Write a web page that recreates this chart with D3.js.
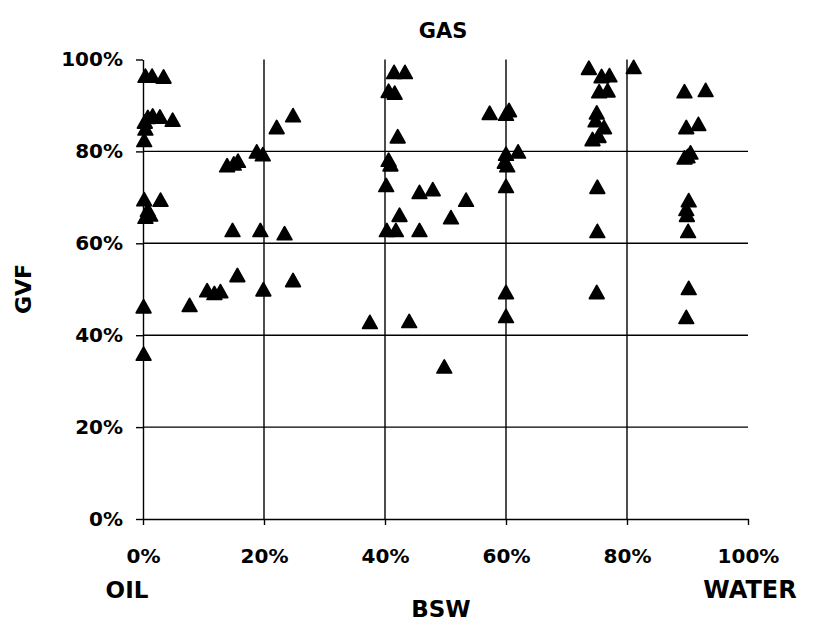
<!DOCTYPE html>
<html>
<head>
<meta charset="utf-8">
<script src="https://cdn.jsdelivr.net/npm/d3@7/dist/d3.min.js"></script>
<style>
  html, body { margin: 0; padding: 0; background: #fff; }
  svg { display: block; }
  text { font-family: "DejaVu Sans", "Liberation Sans", Arial, sans-serif; font-weight: bold; fill: #000; }
</style>
</head>
<body>
<div id="chart"></div>
<script>
// ---- data (BSW %, GVF %) ----
const bsw = [
  0.4, 1.5, 3.4, 0.2, 0.4, 0.3, 0.8, 1.6, 2.8, 4.9,
  0.2, 2.9, 0.8, 1.2, 0.4, 0.1, 0.1, 7.7, 10.6, 11.8,
  12.8, 15.6, 19.9, 24.8, 14.8, 19.4, 23.4, 13.9, 15.0, 15.7,
  18.8, 19.8, 22.1, 24.8, 37.5, 44.0, 49.8,
  41.5, 43.3, 40.6, 41.6, 42.1, 40.6, 40.9, 40.2, 45.7, 47.9,
  53.4, 42.4, 50.9, 40.3, 41.8, 45.7, 57.3,
  60.0, 60.5, 60.0, 62.0, 59.8, 60.2, 60.0, 60.0, 60.0,
  73.7, 75.8, 77.1, 75.4, 76.8, 75.0, 74.8, 76.2, 74.3, 75.3,
  75.1, 75.1, 75.0, 81.1,
  89.5, 93.0, 89.8, 91.8, 89.5, 90.5, 90.0, 90.2, 89.8, 89.9,
  90.1, 90.2, 89.8
];
const gvf = [
  96.5, 96.5, 96.3, 82.5, 85.0, 86.5, 87.5, 87.8, 87.6, 86.9,
  69.6, 69.5, 67.3, 66.3, 65.8, 46.3, 36.0, 46.6, 49.8, 49.2,
  49.6, 53.1, 50.0, 52.0, 62.9, 62.9, 62.2, 77.0, 77.4, 78.0,
  80.0, 79.4, 85.3, 87.9, 42.9, 43.1, 33.2,
  97.3, 97.3, 93.2, 92.8, 83.3, 78.2, 77.2, 72.7, 71.2, 71.8,
  69.5, 66.2, 65.7, 62.9, 62.9, 62.9, 88.4,
  88.2, 89.0, 79.5, 80.0, 77.8, 77.0, 72.5, 49.4, 44.2,
  98.2, 96.4, 96.6, 93.1, 93.3, 88.5, 86.8, 85.3, 82.7, 83.4,
  72.3, 62.7, 49.4, 98.4,
  93.1, 93.4, 85.3, 86.0, 78.7, 79.8, 79.0, 69.4, 67.5, 66.2,
  62.7, 50.3, 44.0
];
const xTicks = [0, 20, 40, 60, 80, 100];
const yTicks = [0, 20, 40, 60, 80, 100];
const xTickLabels = ["0%", "20%", "40%", "60%", "80%", "100%"];
const yTickLabels = ["0%", "20%", "40%", "60%", "80%", "100%"];
const gridValues = [20, 40, 60, 80];
const titleText = "GAS";
const yTitle = "GVF";
const xTitle = "BSW";
const leftLabel = "OIL";
const rightLabel = "WATER";

// ---- layout ----
const W = 814, H = 621;
const x = d3.scaleLinear().domain([0, 100]).range([143, 748]);
const y = d3.scaleLinear().domain([0, 100]).range([519, 59.5]);

const svg = d3.select("#chart").append("svg")
  .attr("width", W).attr("height", H);
svg.append("rect").attr("width", W).attr("height", H).attr("fill", "#fff");

const lineW = 1.4;

// gridlines
svg.append("g").selectAll("line.v").data(gridValues).join("line")
  .attr("x1", d => x(d)).attr("x2", d => x(d))
  .attr("y1", y(0)).attr("y2", y(100))
  .attr("stroke", "#000").attr("stroke-width", lineW);
svg.append("g").selectAll("line.h").data(gridValues).join("line")
  .attr("x1", x(0)).attr("x2", x(100))
  .attr("y1", d => y(d)).attr("y2", d => y(d))
  .attr("stroke", "#000").attr("stroke-width", lineW);

// axes
const yAxis = d3.axisLeft(y).tickValues(yTicks)
  .tickFormat((d, i) => yTickLabels[i]).tickSize(7).tickPadding(13).tickSizeOuter(0);
const gy = svg.append("g").attr("transform", `translate(${x(0)},0)`).call(yAxis);
const xAxis = d3.axisBottom(x).tickValues(xTicks)
  .tickFormat((d, i) => xTickLabels[i]).tickSize(6).tickPadding(24).tickSizeOuter(0);
const gx = svg.append("g").attr("transform", `translate(0,${y(0)})`).call(xAxis);

[gx, gy].forEach(g => {
  g.select(".domain").attr("stroke", "#000").attr("stroke-width", lineW);
  g.selectAll(".tick line").attr("stroke", "#000").attr("stroke-width", lineW);
  g.selectAll(".tick text")
    .attr("font-family", "DejaVu Sans, sans-serif")
    .attr("font-weight", "bold")
    .attr("font-size", 20)
    .attr("fill", "#000");
});

// triangle marker symbol (box-centred)
const triangleBox = {
  draw(ctx, size) {
    const h = Math.sqrt(size), w = h * 1.12;
    ctx.moveTo(0, -h / 2);
    ctx.lineTo(w / 2, h / 2);
    ctx.lineTo(-w / 2, h / 2);
    ctx.closePath();
  }
};
const sym = d3.symbol().type(triangleBox).size(13 * 13);

const pts = bsw.map((v, i) => ({ b: v, g: gvf[i] }));
svg.append("g").selectAll("path").data(pts).join("path")
  .attr("transform", d => `translate(${x(d.b)},${y(d.g)})`)
  .attr("d", sym)
  .attr("fill", "#000").attr("stroke", "#000")
  .attr("stroke-width", 1.8).attr("stroke-linejoin", "round");

// titles
svg.append("text").attr("x", 443).attr("y", 38)
  .attr("text-anchor", "middle").attr("font-size", 21).text(titleText);
svg.append("text").attr("transform", "translate(31,289) rotate(-90)")
  .attr("text-anchor", "middle").attr("font-size", 22).text(yTitle);
svg.append("text").attr("x", 127).attr("y", 598)
  .attr("text-anchor", "middle").attr("font-size", 23).text(leftLabel);
svg.append("text").attr("x", 441).attr("y", 617)
  .attr("text-anchor", "middle").attr("font-size", 23).text(xTitle);
svg.append("text").attr("x", 750).attr("y", 598)
  .attr("text-anchor", "middle").attr("font-size", 24).text(rightLabel);
</script>
</body>
</html>
